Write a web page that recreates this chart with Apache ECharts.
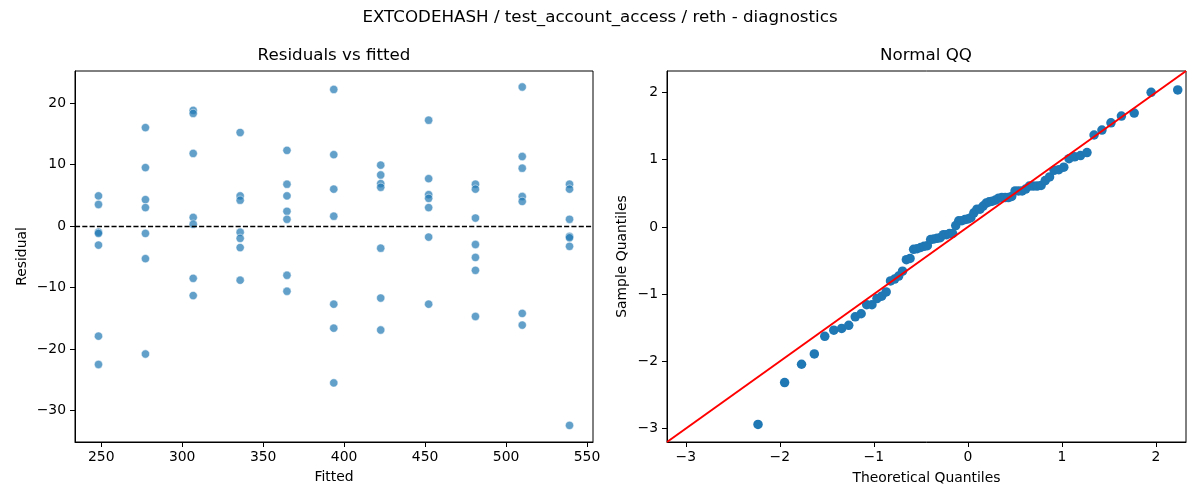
<!DOCTYPE html>
<html>
<head>
<meta charset="utf-8">
<script src="https://cdn.jsdelivr.net/npm/echarts@6/dist/echarts.min.js"></script>
<style>
html, body { margin: 0; padding: 0; background: #fff; }
#container { width: 1200px; height: 500px; }
</style>
</head>
<body>
<div id="container"></div>
<script>
// fitted values (one column of points per fitted value)
var fitted = [248.3, 277.3, 306.8, 335.8, 364.7, 393.6, 422.6, 452.2, 481.1, 510.0, 539.2];
// residuals read per column, same order as fitted
var residuals = [
    [4.9, 3.5, -1.0, -1.2, -3.1, -17.9, -22.5],
    [16.0, 9.5, 4.3, 3.0, -1.2, -5.3, -20.8],
    [18.8, 18.3, 11.8, 1.4, 0.3, -8.5, -11.3],
    [15.2, 4.9, 4.2, -1.0, -2.0, -3.5, -8.8],
    [12.3, 6.8, 4.9, 2.4, 1.1, -8.0, -10.6],
    [22.2, 11.6, 6.0, 1.6, -12.7, -16.6, -25.5],
    [9.9, 8.3, 6.9, 6.3, -3.6, -11.7, -16.9],
    [17.2, 7.7, 5.1, 4.5, 3.0, -1.8, -12.7],
    [6.8, 6.0, 1.3, -3.0, -5.1, -7.2, -14.7],
    [22.6, 11.3, 9.4, 4.8, 4.0, -14.2, -16.1],
    [6.8, 6.0, 1.1, -1.7, -1.9, -3.3, -32.4]
];
// normal QQ points
var theoQuantiles = [
    -2.232, -1.949, -1.769, -1.633, -1.522, -1.426, -1.342, -1.267, -1.198, -1.135,
    -1.076, -1.020, -0.967, -0.917, -0.869, -0.823, -0.779, -0.736, -0.695, -0.654,
    -0.615, -0.577, -0.539, -0.502, -0.466, -0.431, -0.396, -0.361, -0.327, -0.294,
    -0.260, -0.227, -0.195, -0.162, -0.129, -0.097, -0.064, -0.032, 0,
    0.032, 0.064, 0.097, 0.129, 0.162, 0.195, 0.227, 0.260, 0.294, 0.327,
    0.361, 0.396, 0.431, 0.466, 0.502, 0.539, 0.577, 0.615, 0.654, 0.695,
    0.736, 0.779, 0.823, 0.869, 0.917, 0.967, 1.020, 1.076, 1.135, 1.198,
    1.267, 1.342, 1.426, 1.522, 1.633, 1.769, 1.949, 2.232
];
var sampleQuantiles = [
    -2.939, -2.315, -2.043, -1.890, -1.627, -1.537, -1.510, -1.464, -1.338, -1.292,
    -1.157, -1.157, -1.066, -1.030, -0.967, -0.804, -0.776, -0.731, -0.659, -0.487,
    -0.469, -0.333, -0.324, -0.306, -0.288, -0.279, -0.188, -0.179, -0.170, -0.161,
    -0.116, -0.116, -0.098, -0.098, 0.020, 0.092, 0.092, 0.110, 0.119,
    0.138, 0.210, 0.264, 0.264, 0.310, 0.355, 0.373, 0.382, 0.400, 0.427,
    0.436, 0.436, 0.436, 0.454, 0.536, 0.536, 0.536, 0.563, 0.608, 0.608,
    0.608, 0.617, 0.690, 0.744, 0.843, 0.852, 0.889, 1.015, 1.043, 1.061,
    1.106, 1.368, 1.441, 1.549, 1.649, 1.694, 2.002, 2.038
];
// tick labels
var residTicksX = [250, 300, 350, 400, 450, 500, 550];
var residTicksY = [-30, -20, -10, 0, 10, 20];
var qqTicks = [-3, -2, -1, 0, 1, 2];
// 45 degree reference line ends
var qqLine = [-3.2, 2.32];

var FONT = 'DejaVu Sans';

function minus(v) {
    return String(v).replace('-', '\u2212');
}

var residData = [];
fitted.forEach(function (f, i) {
    residuals[i].forEach(function (r) {
        residData.push([f, r]);
    });
});
var qqData = theoQuantiles.map(function (t, i) {
    return [t, sampleQuantiles[i]];
});

function valueAxis(idx, min, max, ticks, name, gap, isY) {
    return {
        type: 'value',
        gridIndex: idx,
        min: min,
        max: max,
        name: name,
        nameLocation: 'middle',
        nameGap: gap,
        nameTextStyle: { fontFamily: FONT, fontSize: 13.9, color: '#000' },
        axisLine: { show: true, onZero: false, lineStyle: { color: '#000', width: 1 } },
        axisTick: { show: true, inside: false, length: 5, customValues: ticks, lineStyle: { color: '#000', width: 1 } },
        axisLabel: {
            customValues: ticks,
            margin: isY ? 9 : 8,
            fontFamily: FONT,
            fontSize: 13.9,
            color: '#000',
            formatter: minus
        },
        splitLine: { show: false }
    };
}

var myChart = echarts.init(document.getElementById('container'));
var option = {
    backgroundColor: '#fff',
    animation: false,
    graphic: [
        { type: 'text', x: 600, y: 18, style: { text: 'EXTCODEHASH / test_account_access / reth - diagnostics', fontFamily: FONT, fontSize: 16.7, fill: '#000', align: 'center', verticalAlign: 'middle' } },
        { type: 'text', x: 334, y: 56, style: { text: 'Residuals vs fitted', fontFamily: FONT, fontSize: 16.7, fill: '#000', align: 'center', verticalAlign: 'middle' } },
        { type: 'text', x: 926, y: 56, style: { text: 'Normal QQ', fontFamily: FONT, fontSize: 16.7, fill: '#000', align: 'center', verticalAlign: 'middle' } }
    ],
    grid: [
        { left: 75, top: 71, width: 518, height: 371, show: true, borderColor: '#000', borderWidth: 1 },
        { left: 667, top: 71, width: 519, height: 371, show: true, borderColor: '#000', borderWidth: 1 }
    ],
    xAxis: [
        valueAxis(0, 233.8, 553.7, residTicksX, 'Fitted', 28, false),
        valueAxis(1, qqLine[0], qqLine[1], qqTicks, 'Theoretical Quantiles', 29, false)
    ],
    yAxis: [
        valueAxis(0, -35.1, 25.2, residTicksY, 'Residual', 46, true),
        valueAxis(1, qqLine[0], qqLine[1], qqTicks, 'Sample Quantiles', 38, true)
    ],
    series: [
        {
            type: 'scatter',
            xAxisIndex: 0,
            yAxisIndex: 0,
            symbolSize: 8.3,
            itemStyle: { color: '#1f77b4', opacity: 0.7, borderColor: '#fff', borderWidth: 0.7 },
            data: residData,
            markLine: {
                silent: true,
                symbol: 'none',
                label: { show: false },
                lineStyle: { color: '#000', width: 1.3, type: [5.1, 2.2] },
                data: [{ yAxis: 0 }]
            }
        },
        {
            type: 'scatter',
            xAxisIndex: 1,
            yAxisIndex: 1,
            symbolSize: 9.5,
            itemStyle: { color: '#1f77b4', opacity: 1 },
            data: qqData
        },
        {
            type: 'line',
            xAxisIndex: 1,
            yAxisIndex: 1,
            z: 5,
            symbol: 'none',
            lineStyle: { color: '#ff0000', width: 2 },
            data: [[qqLine[0], qqLine[0]], [qqLine[1], qqLine[1]]]
        }
    ]
};
myChart.setOption(option);
</script>
</body>
</html>
